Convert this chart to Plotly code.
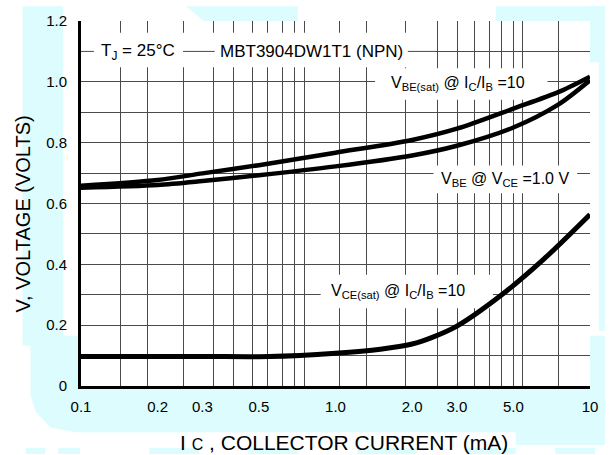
import numpy as np
import plotly.graph_objects as go

# ---- data ----
ic_be = [0.1, 0.2, 0.3, 0.5, 1.0, 2.0, 3.0, 5.0, 7.5, 10]
vbe_sat = [0.658, 0.677, 0.699, 0.726, 0.767, 0.809, 0.846, 0.912, 0.966, 1.017]
vbe = [0.652, 0.661, 0.674, 0.693, 0.722, 0.758, 0.790, 0.850, 0.925, 1.005]

ic_ce = [0.1, 0.3, 0.55, 1.0, 1.5, 2.0, 2.4, 3.0, 4.5, 6.6, 10]
vce_sat = [0.097, 0.097, 0.097, 0.108, 0.121, 0.138, 0.160, 0.197, 0.300, 0.418, 0.564]

x_tickvals = [0.1, 0.2, 0.3, 0.5, 1.0, 2.0, 3.0, 5.0, 10]
x_ticktext = ["0.1", "0.2", "0.3", "0.5", "1.0", "2.0", "3.0", "5.0", "10"]
y_tickvals = [0, 0.2, 0.4, 0.6, 0.8, 1.0, 1.2]
y_ticktext = ["0", "0.2", "0.4", "0.6", "0.8", "1.0", "1.2"]
# vertical grid positions of the (scanned) log paper
x_grid = [0.143, 0.182, 0.252, 0.332, 0.397, 0.471, 0.539, 0.617, 0.687, 0.757,
          1.036, 1.32, 1.889, 2.517, 3.011, 3.505, 4.045, 4.505, 5.016, 5.437, 7.508]

W, H = 610, 455
L, R, T, B = 81, 595, 15, 386
PW, PH = R - L, B - T
GRID = "#4a4a4a"
CYAN = "#dcfcfd"
FONT = "Liberation Sans, Arial, sans-serif"


def fx(px):
    return (px - L) / PW


def fy(py):
    return (B - py) / PH


def x_of_px(px):
    return 10 ** (-1 + 2 * (px - L) / PW)


def y_of_py(py):
    return (B - py) / PH * 1.2


fig = go.Figure()
lw = 4.5
fig.add_trace(go.Scatter(x=ic_be, y=vbe_sat, mode="lines", line=dict(color="black", width=lw, shape="spline", smoothing=0.8), showlegend=False))
fig.add_trace(go.Scatter(x=ic_be, y=vbe, mode="lines", line=dict(color="black", width=lw, shape="spline", smoothing=0.8), showlegend=False))
fig.add_trace(go.Scatter(x=ic_ce, y=vce_sat, mode="lines", line=dict(color="black", width=lw + 0.5, shape="spline", smoothing=0.8), showlegend=False))

shapes = []


def cyan_path(pts):
    d = "M " + " L ".join(f"{fx(a):.4f},{fy(b):.4f}" for a, b in pts) + " Z"
    shapes.append(dict(type="path", path=d, xref="paper", yref="paper", fillcolor=CYAN,
                       line=dict(width=0), layer="below"))


def white_box(x0, x1, y0, y1):
    # pixel bounds -> data coords; drawn above grid, below curves
    shapes.append(dict(type="rect", xref="x", yref="y", x0=x_of_px(x0), x1=x_of_px(x1),
                       y0=y_of_py(y1), y1=y_of_py(y0), fillcolor="white",
                       line=dict(width=0), layer="between"))


# watermark background
cyan_path([(22, 0), (63, 0), (63, 345), (22, 345)])
cyan_path([(30, 335), (610, 335), (610, 433), (75, 433), (50, 428), (35, 412), (30, 395)])
cyan_path([(187, 0), (300, 0), (300, 15), (205, 15)])
cyan_path([(500, 0), (610, 0), (610, 15), (500, 15)])
cyan_path([(595, 0), (610, 0), (610, 57), (595, 57)])
cyan_path([(604, 57), (610, 57), (610, 330), (604, 330)])
cyan_path([(520, 400), (610, 400), (610, 446), (520, 446)])
for a, b in [(25, 45), (58, 80), (150, 200), (250, 300), (360, 420), (470, 520), (560, 600)]:
    cyan_path([(a, 449), (b, 449), (b, 455), (a, 455)])
# white plot area over watermark
shapes.append(dict(type="rect", xref="paper", yref="paper", x0=0, x1=1, y0=0, y1=1,
                   fillcolor="white", line=dict(width=0), layer="below"))
# white band at top hiding grid, with the 1.1 line redrawn
white_box(L, 438, 27, 62)
shapes.append(dict(type="line", xref="x", yref="y", x0=0.1, x1=x_of_px(440), y0=1.1, y1=1.1,
                   line=dict(color=GRID, width=1), layer="between"))
# label boxes
white_box(94, 184, 36, 57)
white_box(216, 411, 36, 57)
white_box(378, 552, 63, 95)
white_box(437, 582, 162, 190)
white_box(323, 497, 273, 307)

ann = []


def label(text, cx, cy, size=17):
    ann.append(dict(text=text, x=float(np.log10(x_of_px(cx))), y=y_of_py(cy), xref="x", yref="y",
                    xanchor="center", yanchor="middle", showarrow=False,
                    font=dict(family=FONT, size=size, color="black")))


label("T<sub>J</sub> = 25°C", 139, 46)
label("MBT3904DW1T1 (NPN)", 314, 46)
label("V<sub>BE(sat)</sub> @ I<sub>C</sub>/I<sub>B</sub> =10", 462, 79, 16)
label("V<sub>BE</sub> @ V<sub>CE</sub> =1.0 V", 509, 176, 16)
label("V<sub>CE(sat)</sub> @ I<sub>C</sub>/I<sub>B</sub> =10", 401, 290, 16)

ann.append(dict(text="I <span style='font-size:16px'>C</span> , COLLECTOR CURRENT (mA)",
                x=fx(347), y=fy(443), xref="paper", yref="paper", showarrow=False,
                xanchor="center", yanchor="middle",
                font=dict(family=FONT, size=21, color="black")))
ann.append(dict(text="V, VOLTAGE (VOLTS)", x=fx(22), y=fy(211), xref="paper", yref="paper",
                xanchor="center", yanchor="middle",
                showarrow=False, textangle=-90, font=dict(family=FONT, size=20, color="black")))

fig.update_layout(
    width=W, height=H,
    margin=dict(l=L, r=W - R, t=T, b=H - B, pad=0),
    paper_bgcolor="white", plot_bgcolor="white",
    shapes=shapes, annotations=ann,
    font=dict(family=FONT, size=15, color="black"),
)
fig.update_xaxes(type="log", range=[-1, 1], tickmode="array", tickvals=x_tickvals, ticktext=x_ticktext,
                 showgrid=False, ticks="", ticklabelstandoff=5, showline=True, linewidth=3, linecolor="black",
                 zeroline=False,
                 minor=dict(tickmode="array", tickvals=x_grid, showgrid=True, gridcolor=GRID, gridwidth=1, ticks=""))
fig.update_yaxes(range=[0, 1.2], tickmode="array", tickvals=y_tickvals, ticktext=y_ticktext,
                 showgrid=True, gridcolor=GRID, gridwidth=1, ticks="", ticklabelstandoff=8,
                 showline=True, linewidth=3, linecolor="black", zeroline=False,
                 minor=dict(dtick=0.1, showgrid=True, gridcolor=GRID, gridwidth=1, ticks=""))

fig.write_html("out.html")
